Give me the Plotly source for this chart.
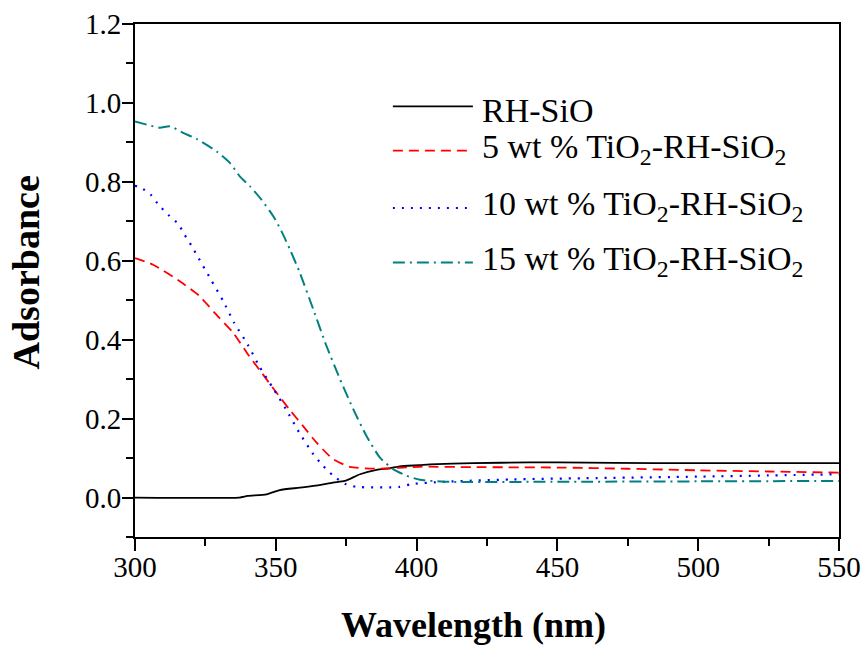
import plotly.graph_objects as go

# UV-vis absorbance spectra of rice-husk silica with TiO2 loading
wl_rh = [300, 337, 340, 346.7, 351.4, 358.5, 365, 370.3, 374.5, 379.9, 385.8, 390.5,
         394, 401, 404.7, 420, 440, 450, 470, 500, 525, 550]
abs_rh = [0.0, 0.0, 0.004, 0.008, 0.019, 0.025, 0.031, 0.038, 0.042, 0.059, 0.070, 0.074,
          0.079, 0.082, 0.084, 0.087, 0.089, 0.089, 0.088, 0.087, 0.087, 0.087]

wl_5 = [300, 306.4, 315.9, 323, 328.3, 334.8, 340, 345, 350, 355, 359.7, 364.5, 370.4,
        376.3, 385.8, 401, 420, 450, 475, 500, 525, 550]
abs_5 = [0.607, 0.59, 0.548, 0.51, 0.468, 0.418, 0.364, 0.316, 0.268, 0.222, 0.181, 0.139,
         0.097, 0.078, 0.073, 0.078, 0.077, 0.076, 0.073, 0.069, 0.066, 0.063]

wl_10 = [300, 301.7, 305.5, 308.6, 311.9, 315.3, 317.6, 320, 322.3, 326.9, 331.3, 335.2,
         340, 344.1, 349.1, 353.6, 358.3, 363.3, 366.6, 370.4, 374.5, 378.7, 394, 398.2,
         410, 434, 460, 500, 525, 550]
abs_10 = [0.79, 0.787, 0.768, 0.74, 0.716, 0.694, 0.666, 0.639, 0.61, 0.553, 0.498, 0.443,
          0.388, 0.333, 0.276, 0.224, 0.165, 0.110, 0.082, 0.055, 0.035, 0.027, 0.027, 0.034,
          0.040, 0.046, 0.049, 0.053, 0.056, 0.059]

wl_15 = [300, 304.7, 308.8, 312.4, 317.1, 321.8, 329, 333.7, 337.2, 340.8, 344.9, 349.1,
         352, 355, 358.5, 363.3, 368, 372.8, 377.5, 382.2, 387, 391.7, 396.5, 401.2, 410,
         450, 500, 550]
abs_15 = [0.953, 0.944, 0.937, 0.941, 0.924, 0.909, 0.877, 0.848, 0.814, 0.789, 0.755, 0.713,
          0.675, 0.629, 0.570, 0.477, 0.384, 0.300, 0.224, 0.156, 0.101, 0.072, 0.055, 0.045,
          0.040, 0.040, 0.041, 0.042]

series_names = ["RH-SiO",
                "5 wt % TiO<sub>2</sub>-RH-SiO<sub>2</sub>",
                "10 wt % TiO<sub>2</sub>-RH-SiO<sub>2</sub>",
                "15 wt % TiO<sub>2</sub>-RH-SiO<sub>2</sub>"]
series_x = [wl_rh, wl_5, wl_10, wl_15]
series_y = [abs_rh, abs_5, abs_10, abs_15]
colors = ["#000000", "#FF0000", "#0000FF", "#008080"]
dashes = ["solid", "10px,6px", "2px,7px", "12px,5px,2px,5px"]
widths = [1.8, 1.8, 2.2, 2.0]

x_ticks = [300, 350, 400, 450, 500, 550]
y_ticks = [0.0, 0.2, 0.4, 0.6, 0.8, 1.0, 1.2]

x_title = "<b>Wavelength (nm)</b>"
y_title = "<b>Adsorbance</b>"

FONT = "Liberation Serif, Times New Roman, serif"
X_RANGE = [300, 550]
Y_RANGE = [-0.1, 1.2]

fig = go.Figure()
# Two identical-scale subplots: x/y carries the frame and tick marks,
# x2/y2 carries the tick labels. The bare silica curve goes on the first,
# the TiO2-loaded curves on the second, so both subplots get drawn.
for i, (xs, ys, c, d, w) in enumerate(zip(series_x, series_y, colors, dashes, widths)):
    fig.add_trace(go.Scatter(x=xs, y=ys, mode="lines", showlegend=False,
                             xaxis="x" if i == 0 else "x2",
                             yaxis="y" if i == 0 else "y2",
                             line=dict(color=c, dash=d, width=w, shape="spline",
                                       smoothing=0.6)))

# Pixel -> paper helpers for the plot frame
W, H = 703.8, 513.0
X0, Y0 = 135.2, 537.3
def px(x):
    return (x - X0) / W
def py(y):
    return (Y0 - y) / H

# Hand-built legend: line samples plus labels
legend_rows = [106.7, 151.0, 208.3, 262.7]
text_tops = [90, 126, 183, 238]
for name, c, d, w, row, top in zip(series_names, colors, dashes, widths,
                                   legend_rows, text_tops):
    fig.add_shape(type="line", xref="paper", yref="paper",
                  x0=px(393), x1=px(473), y0=py(row), y1=py(row),
                  line=dict(color=c, dash=d, width=w))
    fig.add_annotation(xref="paper", yref="paper", x=px(480), y=py(top),
                       xanchor="left", yanchor="top", showarrow=False,
                       text=name, font=dict(family=FONT, size=34, color="black"))

# Axis titles
fig.add_annotation(xref="paper", yref="paper", x=px(474), y=py(625),
                   xanchor="center", yanchor="middle", showarrow=False,
                   text=x_title, font=dict(family=FONT, size=36, color="black"))
fig.add_annotation(xref="paper", yref="paper", x=px(26), y=py(273),
                   xanchor="center", yanchor="middle", showarrow=False,
                   textangle=-90,
                   text=y_title, font=dict(family=FONT, size=38, color="black"))

# Frame and tick marks
frame = dict(showline=True, linecolor="black", linewidth=2, mirror=True,
             ticks="outside", tickwidth=2, tickcolor="black",
             showgrid=False, zeroline=False, showticklabels=False)

fig.update_layout(
    xaxis=dict(range=X_RANGE, tickvals=x_ticks, ticklen=12,
               minor=dict(dtick=25, tick0=300, ticks="outside", ticklen=7,
                          tickwidth=2, tickcolor="black"),
               **frame),
    yaxis=dict(range=Y_RANGE, tickvals=y_ticks, ticklen=11,
               minor=dict(dtick=0.1, tick0=0, ticks="outside", ticklen=7,
                          tickwidth=2, tickcolor="black"),
               **frame),
    xaxis2=dict(overlaying="x", anchor="y2", side="bottom",
                range=X_RANGE, tickvals=x_ticks,
                ticktext=[str(v) for v in x_ticks],
                ticks="outside", ticklen=4, tickcolor="rgba(0,0,0,0)",
                showline=False, showgrid=False, zeroline=False,
                tickfont=dict(family=FONT, size=29, color="black")),
    yaxis2=dict(overlaying="y", anchor="x2", side="left",
                range=Y_RANGE, tickvals=y_ticks,
                ticktext=[f"{v:.1f}" for v in y_ticks],
                ticks="outside", ticklen=7, tickcolor="rgba(0,0,0,0)",
                showline=False, showgrid=False, zeroline=False,
                tickfont=dict(family=FONT, size=29, color="black")),
)

fig.update_layout(width=863, height=646, autosize=False,
                  margin=dict(l=135, r=24, t=24, b=109, autoexpand=False),
                  paper_bgcolor="white", plot_bgcolor="white")

fig.write_html("out.html")
